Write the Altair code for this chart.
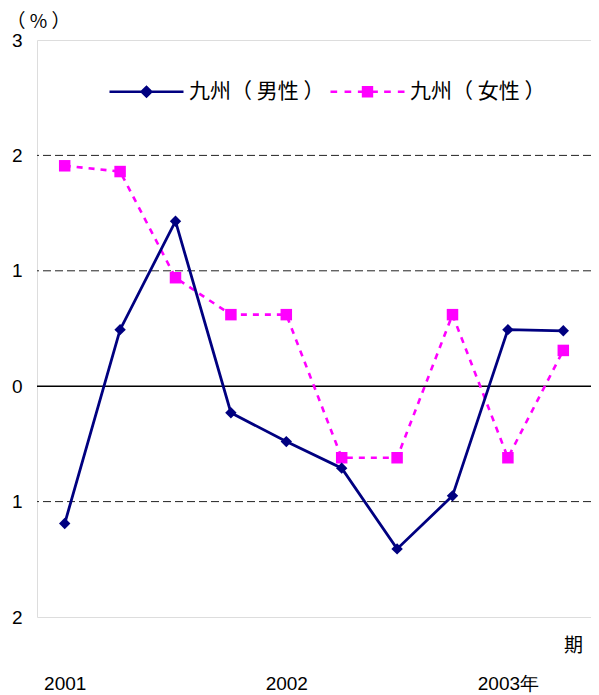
import altair as alt
import pandas as pd

# ---- data ----
periods = list(range(10))
male = [-1.19, 0.49, 1.43, -0.23, -0.48, -0.71, -1.41, -0.95, 0.49, 0.48]
female = [1.91, 1.86, 0.94, 0.62, 0.62, -0.62, -0.62, 0.62, -0.62, 0.31]
series_names = ["九州（ 男性 ）", "九州（ 女性 ）"]
x_tick_values = [0, 4, 8]
x_tick_labels = ["2001", "2002", "2003年"]
y_ticks = [-2, -1, 0, 1, 2, 3]
dashed_grid = [2, 1, -1]
zero_line = [0]

NAVY = "#000080"
MAGENTA = "#FF00FF"
FONT = "Liberation Sans"
CJK = "Noto Sans CJK JP"

df_m = pd.DataFrame({"p": periods, "v": male})
df_f = pd.DataFrame({"p": periods, "v": female})

label_map = "{" + ",".join(f"'{v}':'{l}'" for v, l in zip(x_tick_values, x_tick_labels)) + "}"

x_enc = alt.X(
    "p:Q",
    scale=alt.Scale(domain=[-0.5, 9.5], nice=False, zero=False),
    axis=alt.Axis(
        values=x_tick_values,
        labelExpr=f"{label_map}[datum.value]",
        ticks=False, domain=False, grid=False,
        labelPadding=72, labelFontSize=19, labelFont=FONT, labelColor="#000",
        labelBaseline="alphabetic",
        title="期", titleFont=CJK, titleFontSize=19, titleFontWeight="normal",
        titleX=536, titleY=28, titleAlign="center", titleBaseline="middle",
        titleColor="#000",
    ),
)
y_enc = alt.Y(
    "v:Q",
    scale=alt.Scale(domain=[-2, 3], nice=False, zero=False),
    axis=alt.Axis(
        values=y_ticks,
        labelExpr="abs(datum.value)",
        ticks=False, domain=False, grid=False,
        labelPadding=15, labelFontSize=19, labelFont=FONT, labelColor="#000",
        title="（  %  ）", titleFont=CJK, titleFontSize=19, titleFontWeight="normal",
        titleAngle=0, titleX=1, titleY=-19, titleAlign="center",
        titleBaseline="middle", titleColor="#000",
    ),
)

grid = alt.Chart(pd.DataFrame({"g": dashed_grid})).mark_rule(
    color="#222", strokeWidth=1, strokeDash=[8, 4]
).encode(y=alt.Y("g:Q", scale=alt.Scale(domain=[-2, 3], nice=False)))

zero = alt.Chart(pd.DataFrame({"g": zero_line})).mark_rule(
    color="#000", strokeWidth=1.5
).encode(y=alt.Y("g:Q", scale=alt.Scale(domain=[-2, 3], nice=False)))

male_line = alt.Chart(df_m).mark_line(color=NAVY, strokeWidth=2.8).encode(x=x_enc, y=y_enc)
male_pts = alt.Chart(df_m).mark_point(
    shape="diamond", filled=True, color=NAVY, size=130, opacity=1
).encode(x=x_enc, y=y_enc)
female_line = alt.Chart(df_f).mark_line(
    color=MAGENTA, strokeWidth=2.6, strokeDash=[6, 6]
).encode(x=x_enc, y=y_enc)
female_pts = alt.Chart(df_f).mark_point(
    shape="square", filled=True, color=MAGENTA, size=132, opacity=1
).encode(x=x_enc, y=y_enc)

# legend helper (hidden marks, only the legend is shown)
male_sym = "M-1,0H1M-0.13,0L0,-0.13L0.13,0L0,0.13Z"
female_sym = ("M-1,0H-0.82M-0.62,0H-0.44M-0.26,0H-0.14"
              "M0.14,0H0.28M0.45,0H0.63M0.82,0H1"
              "M-0.12,-0.12H0.12V0.12H-0.12Z")
leg_df = pd.DataFrame({"s": series_names, "p": [0, 0]})
legend_layer = alt.Chart(leg_df).mark_point(
    clip=True, filled=False, size=5476, opacity=1
).encode(
    x=alt.X("p:Q"),
    y=alt.value(-500),
    fill=alt.Fill("s:N", scale=alt.Scale(domain=series_names, range=[NAVY, MAGENTA]),
                  legend=alt.Legend(title=None)),
    stroke=alt.Stroke("s:N", scale=alt.Scale(domain=series_names, range=[NAVY, MAGENTA]),
                      legend=alt.Legend(title=None)),
    shape=alt.Shape("s:N", scale=alt.Scale(domain=series_names, range=[male_sym, female_sym]),
                    legend=alt.Legend(
                        title=None, orient="none", direction="horizontal",
                        legendX=71, legendY=13, columns=2,
                        symbolSize=5476, symbolStrokeWidth=2.5,
                        labelFont=CJK, labelFontSize=21, labelColor="#000",
                        labelOffset=4, columnPadding=0, padding=0,
                        symbolOpacity=1,
                    )),
)

chart = alt.layer(
    grid, zero, female_line, male_line, female_pts, male_pts, legend_layer
).properties(
    width=554, height=577,
    autosize=alt.AutoSizeParams(type="none"),
    padding={"left": 29, "top": 32, "right": 0, "bottom": 76},
).configure_view(
    stroke="#000", strokeWidth=1.5
).configure(background="white")

chart.save("out.html", embed_options={"renderer": "svg", "actions": False})
